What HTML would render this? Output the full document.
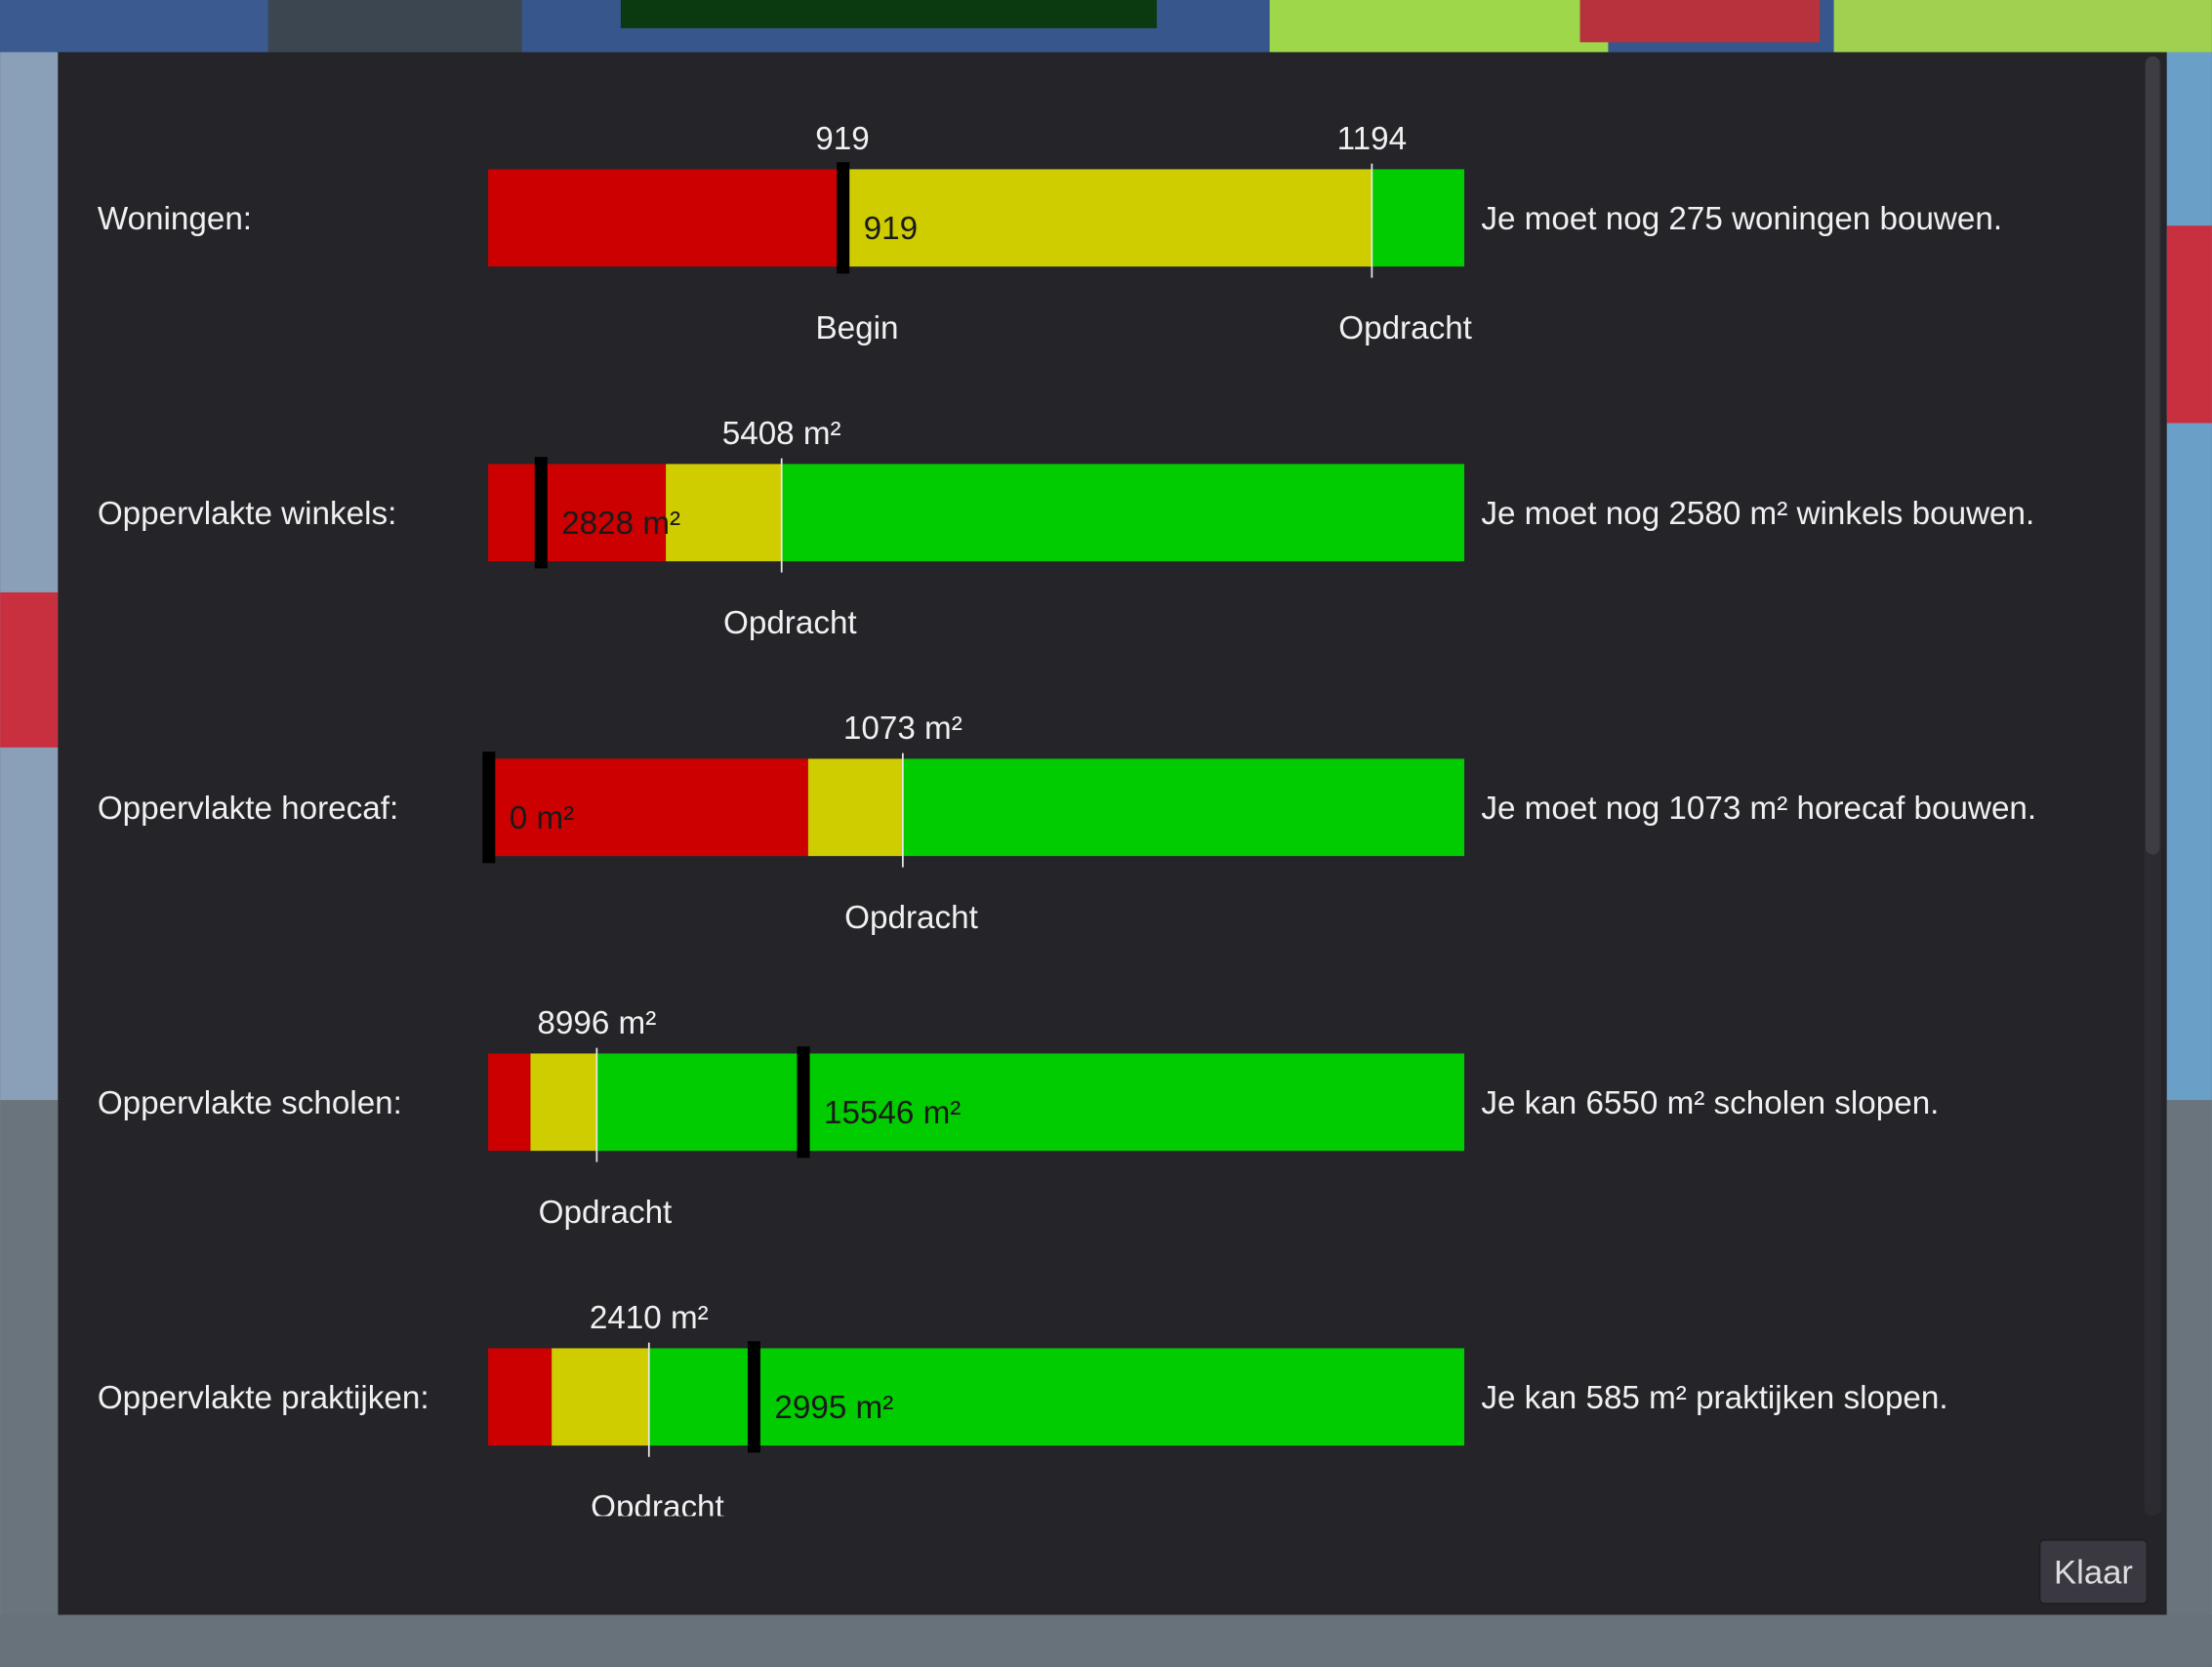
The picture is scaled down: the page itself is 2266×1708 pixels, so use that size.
<!DOCTYPE html>
<html><head><meta charset="utf-8">
<style>
html,body{margin:0;padding:0;background:#4a5560;overflow:hidden}
svg{display:block}
text{font-family:"Liberation Sans",sans-serif}
</style></head>
<body>
<svg id="chart" width="2266" height="1708" viewBox="0 0 1568 1182" xmlns="http://www.w3.org/2000/svg">
  <g>
    <rect x="0" y="0" width="1568" height="1182" fill="#5c6670"/>
    <rect x="0" y="0" width="1568" height="37" fill="#36568c"/>
    <rect x="0" y="0" width="190" height="37" fill="#3a5a90"/>
    <rect x="190" y="0" width="180" height="37" fill="#3c4650"/>
    <rect x="440" y="0" width="380" height="20" fill="#0c3a10"/>
    <rect x="900" y="0" width="240" height="37" fill="#9ed84a"/>
    <rect x="1120" y="0" width="170" height="30" fill="#b8323e"/>
    <rect x="1300" y="0" width="268" height="37" fill="#a0d050"/>
    <rect x="0" y="37" width="41" height="1108" fill="#8aa0b8"/>
    <rect x="0" y="420" width="41" height="110" fill="#c83040"/>
    <rect x="0" y="780" width="41" height="400" fill="#6a747c"/>
    <rect x="1536" y="37" width="32" height="1108" fill="#6aa0c8"/>
    <rect x="1536" y="160" width="32" height="140" fill="#c83040"/>
    <rect x="1536" y="780" width="32" height="400" fill="#6a747c"/>
    <rect x="0" y="1145" width="1568" height="37" fill="#68727a"/>
  </g>
  <rect x="41" y="37" width="1495" height="1108" fill="#252429"/>
  <rect x="1520" y="40" width="12" height="1035" rx="6" fill="#2c2b31"/>
  <rect x="1521" y="40" width="10" height="566" rx="5" fill="#3e3d44"/>
  <defs><clipPath id="content"><rect x="41" y="37" width="1480" height="1038"/></clipPath></defs>
  <g id="rows" clip-path="url(#content)"></g>
  <g>
    <rect x="1446" y="1092" width="76" height="45" rx="3" fill="#3a3840" stroke="#1e1d22" stroke-width="1"/>
    <text x="1484" y="1123" text-anchor="middle" font-size="24" fill="#dddde0">Klaar</text>
  </g>
</svg>
<script>
// Data per row
const labels = ["Woningen:", "Oppervlakte winkels:", "Oppervlakte horecaf:", "Oppervlakte scholen:", "Oppervlakte praktijken:"];
const domainMin = [735, 2270, 0, 5542, 1509];
const domainMax = [1242, 12708, 2526, 36587, 6979];
const redEnd = [919, 4170, 828, 6888, 1865];
const targets = [1194, 5408, 1073, 8996, 2410];
const currents = [919, 2828, 0, 15546, 2995];
const units = ["", " m²", " m²", " m²", " m²"];
const showBegin = [true, false, false, false, false];
const messages = [
  "Je moet nog 275 woningen bouwen.",
  "Je moet nog 2580 m² winkels bouwen.",
  "Je moet nog 1073 m² horecaf bouwen.",
  "Je kan 6550 m² scholen slopen.",
  "Je kan 585 m² praktijken slopen."
];

const NS = "http://www.w3.org/2000/svg";
const g = document.getElementById("rows");
const X0 = 346, X1 = 1038, BAR_H = 69, TOP0 = 120, STEP = 209;
function mk(tag, attrs, parent) {
  const e = document.createElementNS(NS, tag);
  for (const k in attrs) e.setAttribute(k, attrs[k]);
  (parent || g).appendChild(e);
  return e;
}
function txt(s, attrs, parent) { const e = mk("text", attrs, parent); e.textContent = s; return e; }

labels.forEach((lab, i) => {
  const sx = v => X0 + (v - domainMin[i]) / (domainMax[i] - domainMin[i]) * (X1 - X0);
  const top = TOP0 + i * STEP, cy = top + BAR_H / 2;
  const row = mk("g", {});
  
  

  const l = txt(lab, {x: 69, y: cy + 8, "font-size": 23, fill: "#f0f0f0"}, row);
  
  

  const xr = sx(redEnd[i]), xt = sx(targets[i]);
  const r = mk("rect", {x: X0, y: top, width: xr - X0, height: BAR_H, fill: "#cc0000"}, row);
  
  
  const y = mk("rect", {x: xr, y: top, width: xt - xr, height: BAR_H, fill: "#cfcd00"}, row);
  
  
  const gr = mk("rect", {x: xt, y: top, width: X1 - xt, height: BAR_H, fill: "#00cc00"}, row);
  
  

  const tk = mk("line", {x1: xt, x2: xt, y1: top - 4, y2: top + BAR_H + 8, stroke: "#e8e8e8", "stroke-width": 1.2}, row);
  
  

  const topLabel = targets[i] + units[i];
  const w = topLabel.length * 11.8;
  const tl = txt(topLabel, {x: xt, y: top - 14, "font-size": 23, fill: "#f0f0f0", "text-anchor": "middle"}, row);
  
  
  const op = txt("Opdracht", {x: xt - w / 2, y: top + 120, "font-size": 23, fill: "#f0f0f0"}, row);
  
  

  const xc = sx(currents[i]);
  if (showBegin[i]) {
    const bl = txt(String(currents[i]), {x: xc, y: top - 14, "font-size": 23, fill: "#f0f0f0", "text-anchor": "middle"}, row);
    
    
    const bc = txt("Begin", {x: xc - 19, y: top + 120, "font-size": 23, fill: "#f0f0f0"}, row);
    
    
  }
  const m = mk("rect", {x: xc - 4, y: top - 5, width: 9, height: BAR_H + 10, fill: "#000"}, row);
  
  
  const cv = txt(currents[i] + units[i], {x: xc + 15, y: cy + 15, "font-size": 23, fill: "#1a1a1a"}, row);
  
  

  const msg = txt(messages[i], {x: 1050, y: cy + 8, "font-size": 23, fill: "#f0f0f0"}, row);
  
  
});
</script>
</body></html>
